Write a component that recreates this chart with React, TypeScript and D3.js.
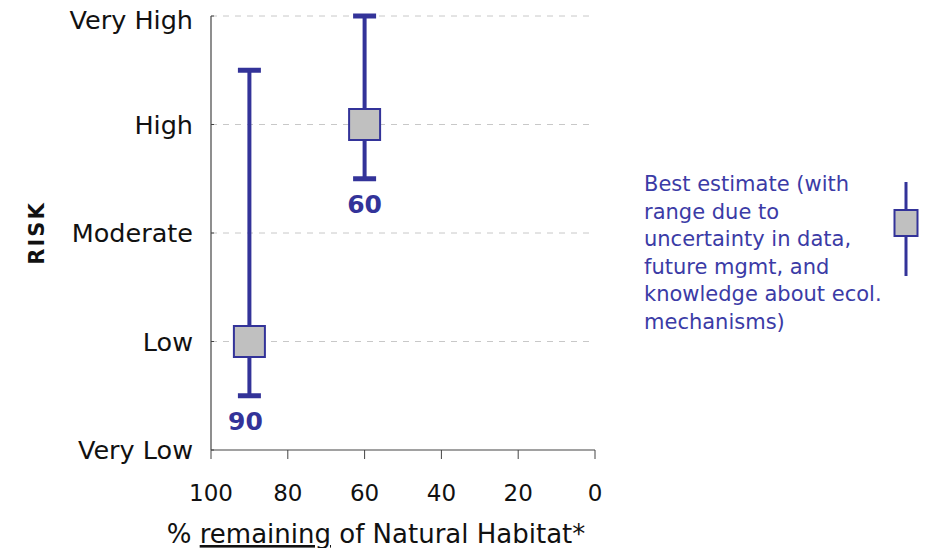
import React from "react";
import * as d3 from "d3";

// risk levels, bottom to top
const riskLevels = ["Very Low", "Low", "Moderate", "High", "Very High"];
const habitatTicks = [100, 80, 60, 40, 20, 0];

// one entry per scenario
const habitatRemaining = [90, 60];
const bestEstimate = [1, 3];
const rangeLow = [0.5, 2.5];
const rangeHigh = [3.5, 4];

const legendLines = [
  "Best estimate (with",
  "range due to",
  "uncertainty in data,",
  "future mgmt, and",
  "knowledge about ecol.",
  "mechanisms)",
];

const width = 930;
const height = 548;
const margin = { top: 16, right: 335, bottom: 98, left: 211 };
const blue = "#333399";
const font = "'DejaVu Sans', Verdana, sans-serif";

const App = () => {
  const x = d3
    .scaleLinear()
    .domain([100, 0])
    .range([margin.left, width - margin.right]);

  const y = d3
    .scaleLinear()
    .domain([0, riskLevels.length - 1])
    .range([height - margin.bottom, margin.top]);

  const capW = 23;
  const box = 31;
  const top = riskLevels.length - 1;

  return (
    <svg
      width={width}
      height={height}
      style={{ position: "absolute", left: 0, top: 0, background: "white" }}
    >
      {/* dashed gridlines */}
      {riskLevels.map((r, i) =>
        i === 0 ? null : (
          <line
            key={"g" + r}
            x1={x(100)}
            x2={x(0)}
            y1={y(i)}
            y2={y(i)}
            stroke="#c8c8c8"
            strokeDasharray="6,6"
          />
        )
      )}

      {/* y axis */}
      <line x1={x(100)} x2={x(100)} y1={y(0)} y2={y(top)} stroke="#444" strokeWidth={1.2} />
      {riskLevels.map((r, i) => (
        <g key={r}>
          <line x1={x(100)} x2={x(100) + 3} y1={y(i)} y2={y(i)} stroke="#444" />
          <text
            x={x(100) - 18}
            y={i === top ? y(i) + 4 : y(i)}
            dy="0.36em"
            textAnchor="end"
            fontFamily={font}
            fontSize={25.5}
            fill="#111"
          >
            {r}
          </text>
        </g>
      ))}
      <text
        transform={`translate(44, ${y(2)}) rotate(-90)`}
        textAnchor="middle"
        fontFamily={font}
        fontSize={21}
        fontWeight="bold"
        letterSpacing="2"
        fill="#111"
      >
        RISK
      </text>

      {/* x axis */}
      <line x1={x(100)} x2={x(0)} y1={y(0)} y2={y(0)} stroke="#444" strokeWidth={1.2} />
      {habitatTicks.map((t) => (
        <g key={t}>
          <line x1={x(t)} x2={x(t)} y1={y(0)} y2={y(0) + 9} stroke="#444" />
          <text
            x={x(t)}
            y={y(0) + 51}
            textAnchor="middle"
            fontFamily={font}
            fontSize={23}
            fill="#111"
          >
            {t}
          </text>
        </g>
      ))}
      <text
        x={(x(100) + x(0)) / 2 - 27}
        y={height - 5}
        textAnchor="middle"
        fontFamily={font}
        fontSize={26}
        fill="#111"
      >
        % <tspan textDecoration="underline">remaining</tspan> of Natural Habitat*
      </text>

      {/* error bars with best estimate */}
      {habitatRemaining.map((h, i) => (
        <g key={h}>
          <line x1={x(h)} x2={x(h)} y1={y(rangeLow[i])} y2={y(rangeHigh[i])} stroke={blue} strokeWidth={4} />
          <line x1={x(h) - capW / 2} x2={x(h) + capW / 2} y1={y(rangeLow[i])} y2={y(rangeLow[i])} stroke={blue} strokeWidth={5} />
          <line x1={x(h) - capW / 2} x2={x(h) + capW / 2} y1={y(rangeHigh[i])} y2={y(rangeHigh[i])} stroke={blue} strokeWidth={5} />
          <rect
            x={x(h) - box / 2}
            y={y(bestEstimate[i]) - box / 2}
            width={box}
            height={box}
            fill="#c0c0c0"
            stroke={blue}
            strokeWidth={2}
          />
          <text
            x={x(h) - (i === 0 ? 4 : 0)}
            y={y(rangeLow[i]) + 34}
            textAnchor="middle"
            fontFamily={font}
            fontSize={25}
            fontWeight="bold"
            fill={blue}
          >
            {h}
          </text>
        </g>
      ))}

      {/* legend */}
      {legendLines.map((l, i) => (
        <text
          key={l}
          x={644}
          y={191 + i * 27.6}
          fontFamily={font}
          fontSize={21}
          fill="#3b3ba6"
        >
          {l}
        </text>
      ))}
      <line x1={906} x2={906} y1={182} y2={276} stroke={blue} strokeWidth={3} />
      <rect x={894.5} y={210} width={23} height={26} fill="#c0c0c0" stroke={blue} strokeWidth={2} />
    </svg>
  );
};

export default App;
